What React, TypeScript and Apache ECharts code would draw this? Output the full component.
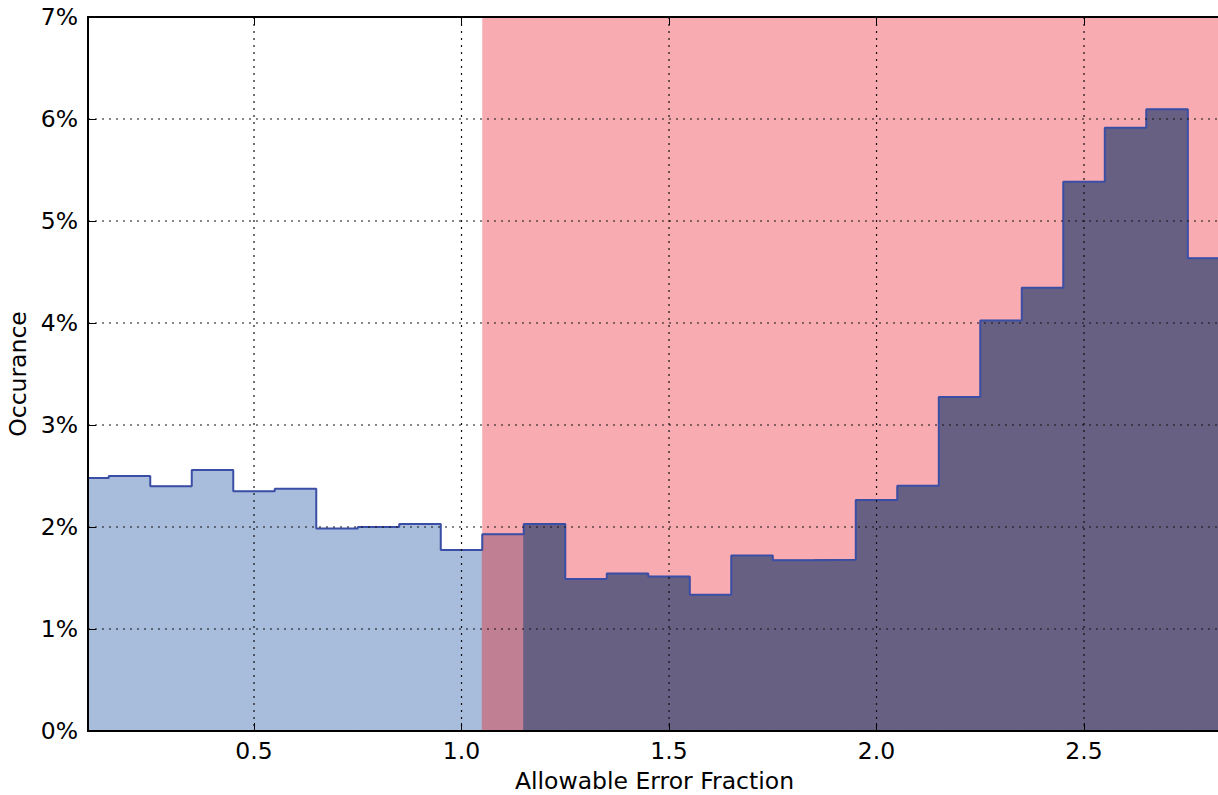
import React, { useEffect, useRef } from "react";
import * as echarts from "echarts";

// Histogram bin edges (Allowable Error Fraction) and bin heights (% occurrence)
const binEdges = [
  0.05, 0.15, 0.25, 0.35, 0.45, 0.55, 0.65, 0.75, 0.85, 0.95, 1.05, 1.15, 1.25, 1.35,
  1.45, 1.55, 1.65, 1.75, 1.85, 1.95, 2.05, 2.15, 2.25, 2.35, 2.45, 2.55, 2.65, 2.75, 2.85,
];
const occurrence = [
  2.48, 2.5, 2.4, 2.56, 2.35, 2.375, 1.985, 2.0, 2.03, 1.775, 1.93, 2.03, 1.49, 1.545,
  1.515, 1.335, 1.72, 1.675, 1.68, 2.265, 2.405, 3.275, 4.025, 4.345, 5.385, 5.915, 6.095, 4.635,
];
const xTicks = [0.5, 1.0, 1.5, 2.0, 2.5];
const yTicks = [0, 1, 2, 3, 4, 5, 6, 7];
const xMin = 0.1;
const xMax = 2.83;
const pinkStart = 1.05;
const darkStart = 1.15;

const COLORS = {
  blue: "#a8bcdb",
  mauve: "#c07f92",
  dark: "#686083",
  pink: "#f8abb1",
  edge: "#3b4ea6",
};

const FONT = "DejaVu Sans";
const FS = 23.5;

export default function App() {
  const ref = useRef<HTMLDivElement>(null);
  useEffect(() => {
    if (!ref.current) return;
    const chart = echarts.init(ref.current, null, { renderer: "svg" });

    const barData = occurrence.map((v, i) => {
      const x0 = binEdges[i];
      const x1 = binEdges[i + 1];
      const zone = x1 <= pinkStart + 1e-9 ? 0 : x0 < darkStart - 1e-9 ? 1 : 2;
      return [x0, x1, v, zone];
    });
    const zoneColors = [COLORS.blue, COLORS.mauve, COLORS.dark];

    const outline: number[][] = occurrence.map((v, i) => [binEdges[i], v]);
    outline.push([binEdges[binEdges.length - 1], occurrence[occurrence.length - 1]]);

    const csRect = (params: any) => ({
      x: params.coordSys.x,
      y: params.coordSys.y,
      width: params.coordSys.width,
      height: params.coordSys.height,
    });

    const axisLineStyle = { color: "#000", width: 2 };

    chart.setOption({
      animation: false,
      backgroundColor: "#fff",
      grid: {
        left: 88,
        top: 17,
        right: 3,
        bottom: 64,
        containLabel: false,
        outerBoundsMode: "none",
      },
      xAxis: [
        {
          type: "value",
          min: xMin,
          max: xMax,
          position: "bottom",
          z: 10,
          axisLine: { show: true, onZero: false, lineStyle: axisLineStyle },
          axisTick: { show: true, inside: true, length: 8, customValues: xTicks, lineStyle: { color: "#000", width: 1 } },
          axisLabel: {
            customValues: xTicks,
            formatter: (v: number) => v.toFixed(1),
            fontFamily: FONT,
            fontSize: FS,
            color: "#000",
            margin: 8,
          },
          splitLine: { show: false },
          name: "Allowable Error Fraction",
          nameLocation: "middle",
          nameGap: 38,
          nameTextStyle: { fontFamily: FONT, fontSize: FS, color: "#000" },
        },
        {
          type: "value",
          min: xMin,
          max: xMax,
          position: "top",
          z: 10,
          axisLine: { show: true, onZero: false, lineStyle: axisLineStyle },
          axisTick: { show: true, inside: true, length: 8, customValues: xTicks, lineStyle: { color: "#000", width: 1 } },
          axisLabel: { show: false },
          splitLine: { show: false },
        },
      ],
      yAxis: [
        {
          type: "value",
          min: 0,
          max: 7,
          interval: 1,
          z: 10,
          axisLine: { show: true, onZero: false, lineStyle: axisLineStyle },
          axisTick: { show: true, inside: true, length: 8, lineStyle: { color: "#000", width: 1 } },
          axisLabel: {
            formatter: "{value}%",
            fontFamily: FONT,
            fontSize: FS,
            color: "#000",
            margin: 10,
          },
          splitLine: { show: false },
          name: "Occurance",
          nameLocation: "middle",
          nameGap: 56,
          nameTextStyle: { fontFamily: FONT, fontSize: FS, color: "#000" },
        },
      ],
      series: [
        {
          type: "custom",
          name: "Fail region",
          z: 1,
          silent: true,
          data: [[pinkStart, 0]],
          renderItem: (params: any, api: any) => {
            const p = api.coord([api.value(0), 0]);
            const cs = csRect(params);
            return {
              type: "rect",
              shape: { x: p[0], y: cs.y, width: cs.x + cs.width - p[0], height: cs.height },
              style: { fill: COLORS.pink },
            };
          },
        },
        {
          type: "custom",
          name: "Histogram",
          z: 2,
          silent: true,
          data: barData,
          encode: { x: [0, 1], y: 2 },
          renderItem: (params: any, api: any) => {
            const x0 = api.value(0);
            const x1 = api.value(1);
            const v = api.value(2);
            const zone = api.value(3);
            const tl = api.coord([x0, v]);
            const br = api.coord([x1, 0]);
            const rect = echarts.graphic.clipRectByRect(
              { x: tl[0], y: tl[1], width: br[0] - tl[0], height: br[1] - tl[1] },
              csRect(params)
            );
            if (!rect) return null;
            const c = zoneColors[zone];
            return {
              type: "rect",
              shape: rect,
              style: { fill: c, stroke: c, lineWidth: 1 },
            };
          },
        },
        {
          type: "line",
          name: "Outline",
          z: 3,
          step: "end",
          symbol: "none",
          silent: true,
          data: outline,
          lineStyle: { color: COLORS.edge, width: 2 },
          clip: true,
        },
        {
          type: "custom",
          name: "VGrid",
          z: 5,
          silent: true,
          data: xTicks.map((x) => [x, 0]),
          renderItem: (params: any, api: any) => {
            const p = api.coord([api.value(0), 0]);
            const cs = csRect(params);
            return {
              type: "line",
              shape: { x1: p[0], y1: cs.y, x2: p[0], y2: cs.y + cs.height },
              style: { stroke: "#111", lineWidth: 1.2, lineDash: [2, 5] },
            };
          },
        },
        {
          type: "custom",
          name: "HGrid",
          z: 5,
          silent: true,
          data: yTicks.map((y) => [xMin, y]),
          renderItem: (params: any, api: any) => {
            const p = api.coord([xMin, api.value(1)]);
            const cs = csRect(params);
            return {
              type: "line",
              shape: { x1: cs.x, y1: p[1], x2: cs.x + cs.width, y2: p[1] },
              style: { stroke: "#111", lineWidth: 1.2, lineDash: [2, 5] },
            };
          },
        },
      ],
    });
    return () => chart.dispose();
  }, []);

  return (
    <div
      ref={ref}
      style={{ position: "fixed", left: 0, top: 0, width: 1224, height: 795, background: "#fff" }}
    />
  );
}
